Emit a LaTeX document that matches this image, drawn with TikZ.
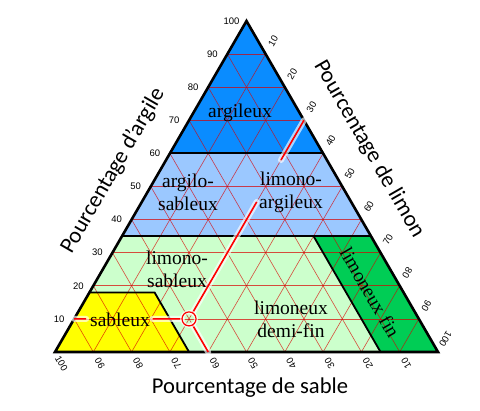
\documentclass[tikz,border=0pt]{standalone}
\usepackage{fontspec}
\setmainfont{Liberation Serif}
\newfontfamily\axisfont{Carlito}
\newfontfamily\tickfont{Liberation Sans}
\usetikzlibrary{calc}
\definecolor{dblue}{RGB}{10,140,255}
\definecolor{lblue}{RGB}{155,200,255}
\definecolor{lgreen}{RGB}{204,255,204}
\definecolor{dgreen}{RGB}{0,205,85}
\definecolor{yel}{RGB}{255,255,0}
\begin{document}
\begin{tikzpicture}[x=1pt,y=-1pt,
  gridline/.style={red!85!black, line width=0.6pt, opacity=0.7},
  regborder/.style={line width=1.8pt, black, line join=miter},
  region/.style={font=\fontsize{19.5}{23}\selectfont, align=center, inner sep=0pt},
  axislbl/.style={font=\axisfont\fontsize{22.6}{26}\selectfont, inner sep=0pt},
  ticklbl/.style={font=\tickfont\fontsize{9.5}{11}\selectfont, inner sep=0pt},
  glow/.style={white, line width=6pt, opacity=0.65, line cap=round},
  redline/.style={red, line width=1.6pt},
]
\useasboundingbox (0,0) rectangle (480,411);
\coordinate (A) at (55,352);
\coordinate (B) at (438,352);
\coordinate (C) at (246.5,21);
% regions
\fill[dblue] (C) -- (barycentric cs:A=0.4,C=0.6) -- (barycentric cs:B=0.4,C=0.6) -- cycle;
\fill[lblue] (barycentric cs:A=0.4,C=0.6) -- (barycentric cs:B=0.4,C=0.6)
  -- (barycentric cs:B=0.65,C=0.35) -- (barycentric cs:A=0.65,C=0.35) -- cycle;
\fill[lgreen] (barycentric cs:A=0.65,C=0.35) -- (barycentric cs:A=0.15,B=0.5,C=0.35)
  -- (barycentric cs:A=0.15,B=0.85) -- (barycentric cs:A=0.65,B=0.35)
  -- (barycentric cs:A=0.65,B=0.17,C=0.18) -- (barycentric cs:A=0.82,C=0.18) -- cycle;
\fill[yel] (A) -- (barycentric cs:A=0.65,B=0.35) -- (barycentric cs:A=0.65,B=0.17,C=0.18)
  -- (barycentric cs:A=0.82,C=0.18) -- cycle;
\fill[dgreen] (barycentric cs:A=0.15,B=0.5,C=0.35) -- (barycentric cs:B=0.65,C=0.35)
  -- (B) -- (barycentric cs:A=0.15,B=0.85) -- cycle;
% grid
\foreach \k in {1,...,9}{
  \pgfmathsetmacro\a{\k/10}
  \pgfmathsetmacro\b{1-\k/10}
  \draw[gridline] (barycentric cs:A=\b,C=\a) -- (barycentric cs:B=\b,C=\a);
  \draw[gridline] (barycentric cs:A=\a,C=\b) -- (barycentric cs:A=\a,B=\b);
  \draw[gridline] (barycentric cs:B=\a,C=\b) -- (barycentric cs:B=\a,A=\b);
}
% borders
\draw[regborder] (barycentric cs:A=0.4,C=0.6) -- (barycentric cs:B=0.4,C=0.6);
\draw[regborder] (barycentric cs:A=0.65,C=0.35) -- (barycentric cs:B=0.65,C=0.35);
\draw[regborder] (barycentric cs:A=0.82,C=0.18) -- (barycentric cs:A=0.65,B=0.17,C=0.18) -- (barycentric cs:A=0.65,B=0.35);
\draw[regborder] (barycentric cs:A=0.15,B=0.5,C=0.35) -- (barycentric cs:A=0.15,B=0.85);
\draw[line width=2.6pt, line join=miter] (A) -- (B) -- (C) -- cycle;
% tick labels
\foreach \k in {1,...,10}{
  \pgfmathsetmacro\a{\k/10}
  \pgfmathsetmacro\b{1-\k/10}
  \pgfmathtruncatemacro\n{10*\k}
  \pgfmathsetmacro\rs{\k>7 ? -120 : 60}
  \pgfmathsetmacro\rb{\k==10 ? -60 : 120}
  \coordinate (tc\k) at (barycentric cs:A=\b,C=\a);
  \coordinate (ts\k) at (barycentric cs:B=\a,C=\b);
  \coordinate (tb\k) at (barycentric cs:A=\a,B=\b);
  \node[ticklbl] (lc\k) at ($(tc\k)+(-15,0)$) {\n};
  \node[ticklbl, rotate=\rs] (ls\k) at ($(ts\k)+(7.5,-13)$) {\n};
  \node[ticklbl, rotate=\rb] (lb\k) at ($(tb\k)+(6.5,11.3)$) {\n};
}
% example point
\coordinate (P) at (barycentric cs:A=0.6,B=0.3,C=0.1);
\coordinate (Lc) at (barycentric cs:A=0.9,C=0.1);
\coordinate (Rs) at (barycentric cs:B=0.3,C=0.7);
\coordinate (Bs) at (barycentric cs:A=0.6,B=0.4);
\foreach \sty in {glow,redline}{
  \draw[\sty] (Lc) -- ($(Lc)!0.105!(P)$);
  \draw[\sty] ($(Lc)!0.682!(P)$) -- ($(P)!7pt!(Lc)$);
  \draw[\sty] ($(P)!7pt!(Bs)$) -- (Bs);
  \draw[\sty] ($(P)!7pt!(Rs)$) -- ($(P)!0.589!(Rs)$);
  \draw[\sty] ($(P)!0.8!(Rs)$) -- (Rs);
}
\draw[white, opacity=0.65, line width=4pt] (P) circle (7pt);
\draw[red, line width=1.2pt] (P) circle (7pt);
% region labels
\node[region] (arg) at (240,113) {argileux};
\node[region] (args) at (188,192) {argilo-\\sableux};
\node[region] (lima) at (291,192) {limono-\\argileux};
\node[region] (lims) at (177,269) {limono-\\sableux};
\node[region] (sab) at (120,320) {sableux};
\node[region] (limd) at (291,319) {limoneux\\demi-fin};
\node[region, rotate=-60] (limf) at (370,292.5) {limoneux fin};
% axis labels
\node[axislbl, rotate=60] (axc) at (113,171) {Pourcentage d’argile};
\node[axislbl, rotate=-60] (axl) at (369,149) {Pourcentage de limon};
\node[axislbl] (axs) at (250,388) {Pourcentage de sable};
\end{tikzpicture}
\end{document}
